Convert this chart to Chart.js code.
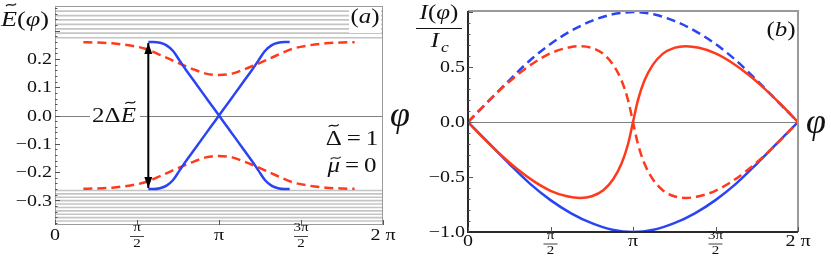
<!DOCTYPE html>
<html>
<head>
<meta charset="utf-8">
<script src="https://cdn.jsdelivr.net/npm/chart.js@4.4.0/dist/chart.umd.min.js"></script>
<style>
  html, body { margin: 0; padding: 0; background: #fff; }
  #wrap { position: relative; width: 831px; height: 262px; }
  .panel { position: absolute; top: 0; height: 262px; }
  #panel-a { left: 0; width: 410px; }
  #panel-b { left: 410px; width: 421px; }
</style>
</head>
<body>
<div id="wrap">
  <div class="panel" id="panel-a"><canvas id="chart-a"></canvas></div>
  <div class="panel" id="panel-b"><canvas id="chart-b"></canvas></div>
</div>
<script>
// Phase is stored in units of pi (0..2)

// Panel (a) - Andreev levels E(phi)
const bandPhi  = [0.569, 0.60, 0.64, 0.68, 0.72, 0.76, 0.80, 0.85, 0.90, 0.95, 1.00, 1.05, 1.10, 1.15, 1.20, 1.24, 1.28, 1.32, 1.36, 1.40, 1.431];
const bandDown = [0.26, 0.26, 0.257, 0.248, 0.228, 0.194, 0.160, 0.120, 0.080, 0.040, 0, -0.040, -0.080, -0.120, -0.160, -0.194, -0.228, -0.248, -0.257, -0.26, -0.26];
const bandUp   = [-0.26, -0.26, -0.257, -0.248, -0.228, -0.194, -0.160, -0.120, -0.080, -0.040, 0, 0.040, 0.080, 0.120, 0.160, 0.194, 0.228, 0.248, 0.257, 0.26, 0.26];

const gapPhi   = [0.173, 0.25, 0.35, 0.45, 0.55, 0.65, 0.75, 0.85, 0.92, 1.00, 1.08, 1.15, 1.25, 1.35, 1.45, 1.55, 1.65, 1.75, 1.827];
const gapUpper = [0.259, 0.258, 0.255, 0.248, 0.236, 0.212, 0.186, 0.162, 0.148, 0.143, 0.148, 0.162, 0.186, 0.212, 0.236, 0.248, 0.255, 0.258, 0.259];
const gapLower = [-0.259, -0.258, -0.255, -0.248, -0.236, -0.212, -0.186, -0.162, -0.148, -0.143, -0.148, -0.162, -0.186, -0.212, -0.236, -0.248, -0.255, -0.258, -0.259];

// continuum levels (horizontal grey lines)
const contUpper = [0.275, 0.291, 0.306, 0.322, 0.338, 0.353, 0.369];
const contLower = [-0.265, -0.277, -0.289, -0.301, -0.313, -0.325, -0.337, -0.349, -0.361, -0.373];

const arrowPhi = 0.569;
const arrowEnds = [0.256, -0.256];

const eTicks = [-0.3, -0.2, -0.1, 0, 0.1, 0.2];
const eTickLabels = ['\u22120.3', '\u22120.2', '\u22120.1', '0.0', '0.1', '0.2'];

// Panel (b) - current I(phi)/Ic
const curPhi     = [0, 0.125, 0.25, 0.375, 0.5, 0.625, 0.75, 0.875, 1.0, 1.125, 1.25, 1.375, 1.5, 1.625, 1.75, 1.875, 2.0];
const blueDashed = [0, 0.19, 0.38, 0.56, 0.71, 0.83, 0.92, 0.98, 1.0, 0.98, 0.92, 0.83, 0.71, 0.56, 0.38, 0.19, 0];
const blueSolid  = [0, -0.19, -0.38, -0.56, -0.71, -0.83, -0.92, -0.98, -1.0, -0.98, -0.92, -0.83, -0.71, -0.56, -0.38, -0.19, 0];

const redPhi    = [0, 0.1, 0.2, 0.3, 0.4, 0.5, 0.6, 0.68, 0.75, 0.82, 0.88, 0.93, 0.97, 1.0, 1.03, 1.07, 1.12, 1.18, 1.25, 1.32, 1.4, 1.5, 1.6, 1.7, 1.8, 1.9, 2.0];
const redSolid  = [0, -0.155, -0.30, -0.43, -0.54, -0.625, -0.675, -0.69, -0.675, -0.62, -0.52, -0.38, -0.2, 0, 0.2, 0.38, 0.52, 0.62, 0.675, 0.69, 0.675, 0.625, 0.54, 0.43, 0.30, 0.155, 0];
const redDashed = [0, 0.155, 0.30, 0.43, 0.54, 0.625, 0.675, 0.69, 0.675, 0.62, 0.52, 0.38, 0.2, 0, -0.2, -0.38, -0.52, -0.62, -0.675, -0.69, -0.675, -0.625, -0.54, -0.43, -0.30, -0.155, 0];

const iTicks = [-1, -0.5, 0, 0.5];
const iTickLabels = ['\u22121.0', '\u22120.5', '0.0', '0.5'];

const phiTicks = [0, 0.5, 1, 1.5, 2];
const phiTickLabels = ['0', '\u03c0/2', '\u03c0', '3\u03c0/2', '2 \u03c0'];

const COLORS = {
    blue: '#2a44f4',
    red: '#ff3a1c',
    cont: '#c4c4c4',
    zero: '#808080',
    text: '#111111'
};
const SERIF = '"Liberation Serif", "DejaVu Serif", serif';
const SX = 1.25; // the original figure is stretched horizontally

function toPoints(xs, ys) {
    return xs.map((x, i) => ({ x: x, y: ys[i] }));
}

function curve(data, color, dashed, width) {
    return {
        data: data,
        showLine: true,
        borderColor: color,
        borderWidth: width || 2.5,
        borderDash: dashed ? [9, 5] : [],
        pointRadius: 0,
        fill: false,
        cubicInterpolationMode: 'monotone'
    };
}

function straight(data, color, width) {
    return {
        data: data,
        showLine: true,
        borderColor: color,
        borderWidth: width,
        pointRadius: 0,
        fill: false,
        tension: 0
    };
}

// draw stretched serif text
function text(ctx, str, x, y, size, opts = {}) {
    ctx.save();
    ctx.translate(x, y);
    ctx.scale(opts.sx || SX, 1);
    ctx.font = (opts.italic ? 'italic ' : '') + size + 'px ' + SERIF;
    ctx.textAlign = opts.align || 'center';
    ctx.textBaseline = 'middle';
    ctx.fillStyle = COLORS.text;
    ctx.fillText(str, 0, 0);
    ctx.restore();
}

function tilde(ctx, cx, ty) {
    ctx.save();
    ctx.strokeStyle = COLORS.text;
    ctx.lineWidth = 1.2;
    ctx.beginPath();
    ctx.moveTo(cx - 5, ty + 1.2);
    ctx.bezierCurveTo(cx - 2.5, ty - 3, cx + 2.5, ty + 3, cx + 5, ty - 1.2);
    ctx.stroke();
    ctx.restore();
}

// mixed italic / upright runs, third flag puts a tilde on top
function runs(ctx, parts, x, y, size, align) {
    let total = 0;
    const widths = parts.map(p => {
        ctx.font = (p[1] ? 'italic ' : '') + size + 'px ' + SERIF;
        const w = ctx.measureText(p[0]).width * SX;
        total += w;
        return w;
    });
    let cx = align === 'right' ? x - total : (align === 'center' ? x - total / 2 : x);
    parts.forEach((p, i) => {
        text(ctx, p[0], cx, y, size, { italic: p[1], align: 'left' });
        if (p[2]) tilde(ctx, cx + widths[i] / 2 + (p[1] ? 2 : 0), y - size * (p[3] || 0.62));
        cx += widths[i];
    });
    return total;
}

function drawPhiTicks(ctx, xs, yPlain, yNum, yDen, size, fracSize) {
    phiTicks.forEach((v, i) => {
        const px = xs.getPixelForValue(v);
        const lab = phiTickLabels[i];
        if (lab.indexOf('/') >= 0) {
            const [num, den] = lab.split('/');
            text(ctx, num, px, yNum, fracSize);
            text(ctx, den, px, yDen, fracSize);
            ctx.save();
            ctx.strokeStyle = COLORS.text;
            ctx.lineWidth = 0.8;
            ctx.beginPath();
            ctx.moveTo(px - 7, (yNum + yDen) / 2 + 0.5);
            ctx.lineTo(px + 7, (yNum + yDen) / 2 + 0.5);
            ctx.stroke();
            ctx.restore();
        } else {
            text(ctx, lab, px, yPlain, size);
        }
    });
}

function drawInnerTicks(ctx, area, xs, ys, yMinor, yMajorEvery, yLo, yHi) {
    ctx.save();
    ctx.strokeStyle = '#555';
    ctx.lineWidth = 1;
    ctx.beginPath();
    const n = Math.round((yHi - yLo) / yMinor);
    for (let k = 0; k <= n; k++) {
        const v = yLo + k * yMinor;
        const py = Math.round(ys.getPixelForValue(v)) + 0.5;
        if (py < area.top + 1 || py > area.bottom - 1) continue;
        const major = Math.abs(v / yMajorEvery - Math.round(v / yMajorEvery)) < 1e-6;
        const len = major ? 5 : 2.5;
        ctx.moveTo(area.left, py);
        ctx.lineTo(area.left + len, py);
    }
    phiTicks.forEach(v => {
        const px = Math.round(xs.getPixelForValue(v)) + 0.5;
        ctx.moveTo(px, area.bottom);
        ctx.lineTo(px, area.bottom - 5);
    });
    ctx.stroke();
    ctx.restore();
}

function zeroLine(chart) {
    const { ctx, chartArea: a, scales: { y } } = chart;
    const py = Math.round(y.getPixelForValue(0)) + 0.5;
    ctx.save();
    ctx.strokeStyle = COLORS.zero;
    ctx.lineWidth = 1;
    ctx.beginPath();
    ctx.moveTo(a.left, py);
    ctx.lineTo(a.right, py);
    ctx.stroke();
    ctx.restore();
}

const baseOptions = (xMin, xMax, yMin, yMax, padding) => ({
    responsive: true,
    maintainAspectRatio: false,
    animation: false,
    layout: { padding: padding },
    plugins: { legend: { display: false }, tooltip: { enabled: false } },
    scales: {
        x: { type: 'linear', min: xMin, max: xMax, display: false },
        y: { type: 'linear', min: yMin, max: yMax, display: false }
    }
});

// ---------- panel (a)
const contSets = contUpper.concat(contLower).map(e =>
    straight(toPoints([0, 2], [e, e]), COLORS.cont, 1.6));

const panelA = {
    id: 'panelA',
    beforeDatasetsDraw(chart) { zeroLine(chart); },
    afterDatasetsDraw(chart) {
        const { ctx, chartArea: a, scales: { x, y } } = chart;
        // arrow heads
        const ax = x.getPixelForValue(arrowPhi);
        ctx.save();
        ctx.fillStyle = '#000';
        arrowEnds.forEach((e, i) => {
            const ty = y.getPixelForValue(e);
            const dir = i === 0 ? 1 : -1;
            ctx.beginPath();
            ctx.moveTo(ax, ty);
            ctx.lineTo(ax - 4, ty + dir * 11);
            ctx.lineTo(ax + 4, ty + dir * 11);
            ctx.closePath();
            ctx.fill();
        });
        // frame
        ctx.strokeStyle = '#9a9a9a';
        ctx.lineWidth = 1;
        ctx.strokeRect(a.left + 0.5, a.top + 0.5, a.right - a.left - 1, a.bottom - a.top - 1);
        ctx.restore();
        drawInnerTicks(ctx, a, x, y, 0.02, 0.1, -0.38, 0.38);

        // label boxes
        ctx.save();
        ctx.fillStyle = '#fff';
        ctx.fillRect(349, a.top + 1, 32, 26);
        ctx.fillRect(90, 106, 50, 20);
        ctx.restore();

        eTicks.forEach((v, i) => text(ctx, eTickLabels[i], 52, y.getPixelForValue(v) + 1, 16, { align: 'right' }));
        drawPhiTicks(ctx, x, 236, 228, 244, 16, 12);

        runs(ctx, [['E', true, true, 0.72], ['(', false], ['\u03c6', true], [')', false]], 1, 20, 21, 'left');
        runs(ctx, [['(', false], ['a', true], [')', false]], 365, 18, 20, 'center');
        runs(ctx, [['2\u0394', false], ['E', true, true, 0.72]], 114, 117, 20, 'center');
        runs(ctx, [['\u0394', false, true, 0.72], ['\u2009=\u20091', false]], 352, 140, 20, 'center');
        runs(ctx, [['\u03bc', true, true, 0.45], ['\u2009=\u20090', false]], 352, 167, 20, 'center');
        text(ctx, '\u03c6', 400, 117, 36, { italic: true, sx: 1 });
    }
};

new Chart(document.getElementById('chart-a'), {
    type: 'scatter',
    data: {
        datasets: [
            straight(toPoints([arrowPhi, arrowPhi], arrowEnds), '#000', 2),
            curve(toPoints(bandPhi, bandDown), COLORS.blue, false, 2.5),
            curve(toPoints(bandPhi, bandUp), COLORS.blue, false, 2.5),
            curve(toPoints(gapPhi, gapUpper), COLORS.red, true, 2.5),
            curve(toPoints(gapPhi, gapLower), COLORS.red, true, 2.5)
        ].concat(contSets)
    },
    options: baseOptions(0, 2, -0.387, 0.387, { left: 55, right: 27, top: 6, bottom: 37 }),
    plugins: [panelA]
});

// ---------- panel (b)
const panelB = {
    id: 'panelB',
    beforeDatasetsDraw(chart) { zeroLine(chart); },
    afterDatasetsDraw(chart) {
        const { ctx, chartArea: a, scales: { x, y } } = chart;
        ctx.save();
        ctx.lineWidth = 2;
        ctx.strokeStyle = '#9a9a9a';
        ctx.beginPath();
        ctx.moveTo(a.left, a.top);
        ctx.lineTo(a.right, a.top);
        ctx.lineTo(a.right, a.bottom);
        ctx.stroke();
        ctx.strokeStyle = '#2a2a2a';
        ctx.beginPath();
        ctx.moveTo(a.left, a.top);
        ctx.lineTo(a.left, a.bottom);
        ctx.lineTo(a.right, a.bottom);
        ctx.stroke();
        ctx.restore();
        drawInnerTicks(ctx, a, x, y, 0.1, 0.5, -1.0, 1.0);

        iTicks.forEach((v, i) => text(ctx, iTickLabels[i], 55, y.getPixelForValue(v) + 1, 16, { align: 'right' }));
        drawPhiTicks(ctx, x, 242, 236, 251, 16, 12);

        runs(ctx, [['I', true], ['(', false], ['\u03c6', true], [')', false]], 29, 14, 20, 'center');
        ctx.save();
        ctx.strokeStyle = COLORS.text;
        ctx.lineWidth = 1;
        ctx.beginPath();
        ctx.moveTo(6, 28.5);
        ctx.lineTo(52, 28.5);
        ctx.stroke();
        ctx.restore();
        text(ctx, 'I', 25, 42, 20, { italic: true });
        text(ctx, 'c', 35, 48, 14, { italic: true });
        runs(ctx, [['(', false], ['b', true], [')', false]], 371, 31, 20, 'center');
        text(ctx, '\u03c6', 406, 124, 36, { italic: true, sx: 1 });
    }
};

new Chart(document.getElementById('chart-b'), {
    type: 'scatter',
    data: {
        datasets: [
            curve(toPoints(redPhi, redSolid), COLORS.red, false, 2.5),
            curve(toPoints(redPhi, redDashed), COLORS.red, true, 2.5),
            curve(toPoints(curPhi, blueDashed), COLORS.blue, true, 2.5),
            curve(toPoints(curPhi, blueSolid), COLORS.blue, false, 2.5)
        ]
    },
    options: baseOptions(0, 2, -1.0, 1.01, { left: 58, right: 33, top: 11, bottom: 30 }),
    plugins: [panelB]
});
</script>
</body>
</html>
